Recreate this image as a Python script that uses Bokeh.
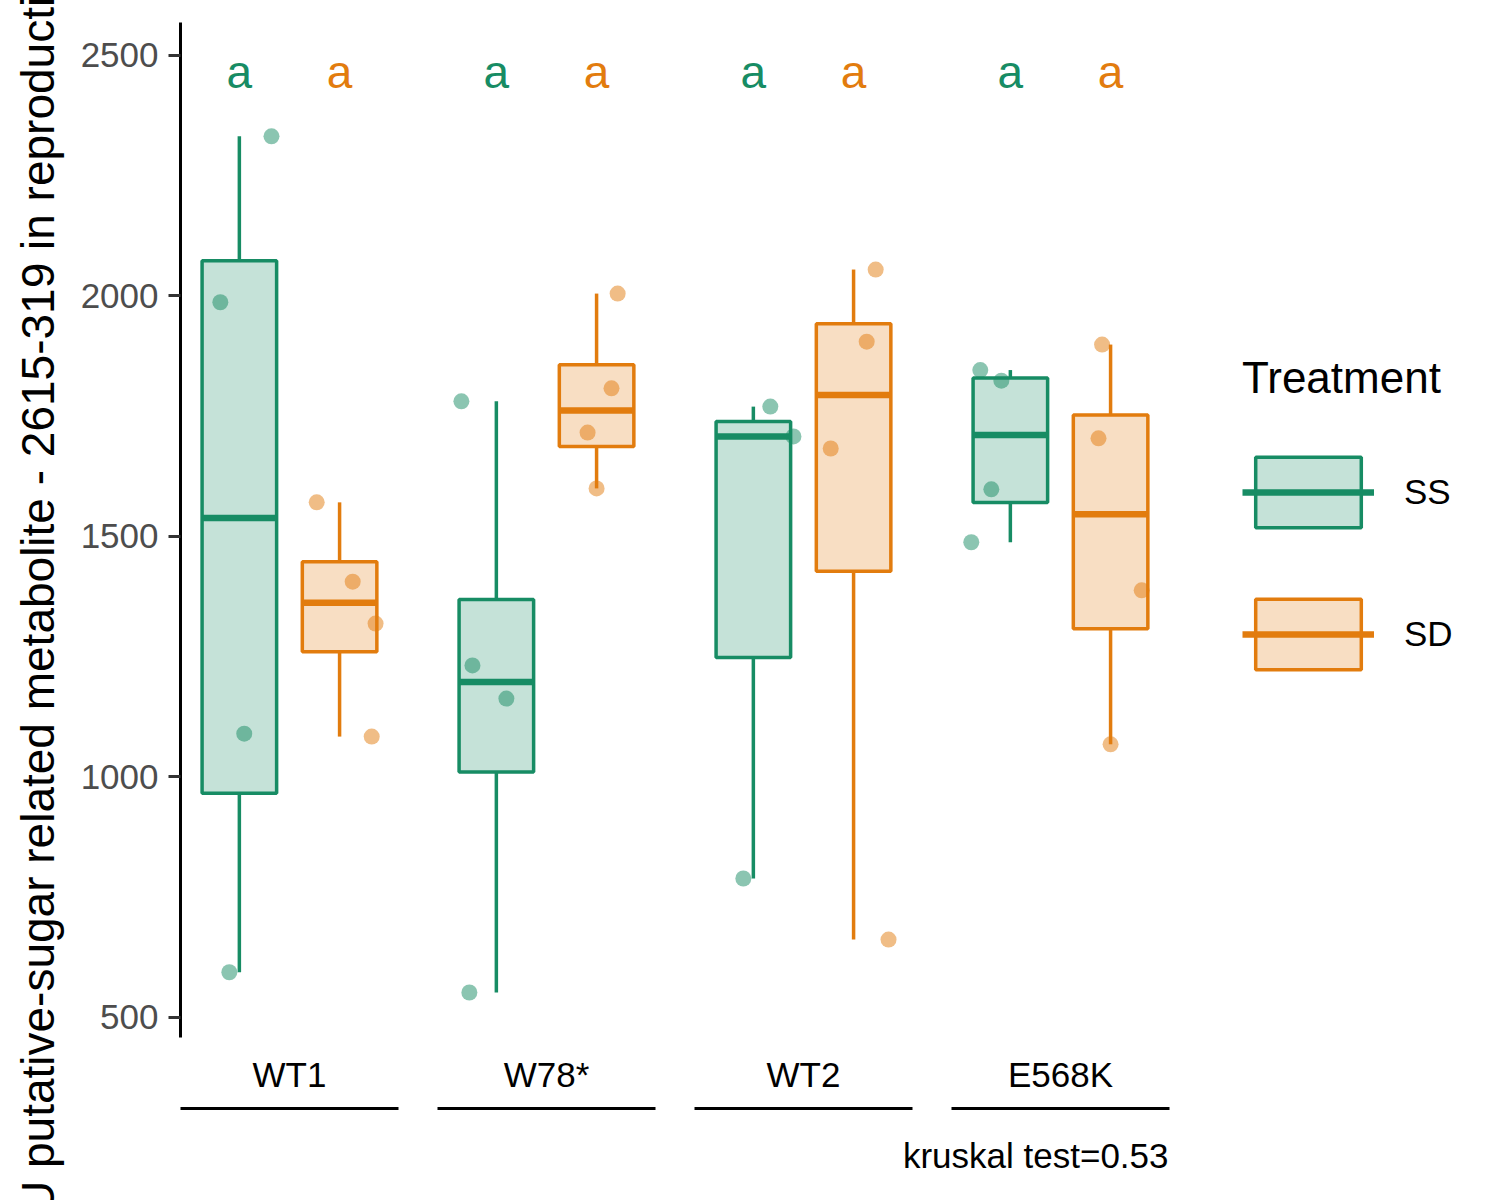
import numpy as np
from bokeh.plotting import figure
from bokeh.models import (Range1d, FixedTicker, Legend, LegendItem, ColumnDataSource,
                          LinearAxis, Title)
from bokeh.embed import file_html
from bokeh.resources import INLINE
from bokeh.core.properties import value

# ---------------- data ----------------
groups = ["WT1", "W78*", "WT2", "E568K"]
treatments = ["SS", "SD"]

ss_wt1 = [2332, 1987, 1090, 594]
ss_w78 = [1781, 1232, 1163, 552]
ss_wt2 = [1770, 1708, 789]
ss_e568k = [1846, 1824, 1598, 1488]

sd_wt1 = [1571, 1406, 1319, 1084]
sd_w78 = [2005, 1808, 1716, 1600]
sd_wt2 = [2055, 1905, 1683, 662]
sd_e568k = [1899, 1704, 1388, 1068]

# horizontal jitter of the points (category units)
jit_ss_wt1 = [0.125, -0.074, 0.019, -0.039]
jit_ss_w78 = [-0.136, -0.093, 0.039, -0.105]
jit_ss_wt2 = [0.066, 0.156, -0.039]
jit_ss_e568k = [-0.117, -0.035, -0.074, -0.152]

jit_sd_wt1 = [-0.089, 0.051, 0.140, 0.125]
jit_sd_w78 = [0.082, 0.058, -0.035, 0.0]
jit_sd_wt2 = [0.086, 0.051, -0.089, 0.136]
jit_sd_e568k = [-0.033, -0.047, 0.121, 0.0]

letters_ss = ["a", "a", "a", "a"]
letters_sd = ["a", "a", "a", "a"]

y_ticks = [500, 1000, 1500, 2000, 2500]
kruskal_label = "kruskal test=0.53"
y_title = "AU putative-sugar related metabolite - 2615-319 in reproductive tissue"

# ---------------- style ----------------
FONT = "Liberation Sans"
COLORS = {"SS": "#178C64", "SD": "#E27C0E"}
DODGE = {"SS": -0.195, "SD": 0.195}
BOX_W = 0.29
HALF_GROUP = 0.424
LETTER_Y = 2466

values = {
    "SS": [ss_wt1, ss_w78, ss_wt2, ss_e568k],
    "SD": [sd_wt1, sd_w78, sd_wt2, sd_e568k],
}
jitters = {
    "SS": [jit_ss_wt1, jit_ss_w78, jit_ss_wt2, jit_ss_e568k],
    "SD": [jit_sd_wt1, jit_sd_w78, jit_sd_wt2, jit_sd_e568k],
}
letters = {"SS": letters_ss, "SD": letters_sd}

group_pos = [i + 1 for i in range(len(groups))]
# the frame reaches the right edge; the legend sits in its empty right part
x_range = Range1d(group_pos[0] - 0.424, group_pos[0] - 0.424 + 1320 / 257)

p = figure(width=1500, height=1200, output_backend="svg", toolbar_location=None,
           x_range=x_range, y_range=Range1d(458.4, 2568.6),
           x_axis_location=None, min_border_left=180, min_border_right=0,
           min_border_top=22, min_border_bottom=163)
p.outline_line_color = None
p.xgrid.visible = False
p.ygrid.visible = False

legend_items = []
for t in treatments:
    col = COLORS[t]
    px, py = [], []
    for gi, vals in enumerate(values[t]):
        for v, j in zip(vals, jitters[t][gi]):
            px.append(group_pos[gi] + DODGE[t] + j)
            py.append(v)
    p.scatter(px, py, size=16, fill_color=col, fill_alpha=0.5, line_color=None)

    xs, q1s, meds, q3s, los, his = [], [], [], [], [], []
    for gi, vals in enumerate(values[t]):
        a = np.array(vals, dtype=float)
        q1, med, q3 = np.percentile(a, [25, 50, 75])
        iqr = q3 - q1
        lo = a[a >= q1 - 1.5 * iqr].min()
        hi = a[a <= q3 + 1.5 * iqr].max()
        xs.append(group_pos[gi] + DODGE[t])
        q1s.append(q1); meds.append(med); q3s.append(q3); los.append(lo); his.append(hi)
    src = ColumnDataSource(dict(x=xs, q1=q1s, med=meds, q3=q3s, lo=los, hi=his,
                                left=[x - BOX_W / 2 for x in xs],
                                right=[x + BOX_W / 2 for x in xs]))
    p.segment(x0="x", y0="q3", x1="x", y1="hi", source=src, line_color=col, line_width=3.5)
    p.segment(x0="x", y0="lo", x1="x", y1="q1", source=src, line_color=col, line_width=3.5)
    box_r = p.quad(left="left", right="right", bottom="q1", top="q3", source=src,
                   fill_color=col, fill_alpha=0.25, line_color=col, line_width=3.5)
    med_r = p.segment(x0="left", y0="med", x1="right", y1="med", source=src,
                      line_color=col, line_width=6.5)
    legend_items.append(LegendItem(label=t, renderers=[box_r, med_r]))

    p.text(x=xs, y=[LETTER_Y] * len(xs), text=letters[t], text_color=col,
           text_font=value(FONT), text_font_size="46px", text_align="center",
           text_baseline="alphabetic")

# y axis
ax = p.yaxis[0]
ax.ticker = FixedTicker(ticks=y_ticks)
ax.minor_tick_line_color = None
ax.axis_line_width = 3
ax.axis_line_color = "black"
ax.major_tick_line_width = 3
ax.major_tick_line_color = "#333333"
ax.major_tick_out = 12
ax.major_tick_in = 0
ax.major_label_standoff = 10
ax.major_label_text_font = FONT
ax.major_label_text_font_size = "35px"
ax.major_label_text_color = "#4D4D4D"
ax.axis_label = y_title
ax.axis_label_text_font = FONT
ax.axis_label_text_font_size = "46px"
ax.axis_label_text_font_style = "normal"
ax.axis_label_text_color = "black"
ax.axis_label_standoff = 14

# x axis: group names
xa = LinearAxis(ticker=FixedTicker(ticks=group_pos),
                major_label_overrides={g: n for g, n in zip(group_pos, groups)})
xa.axis_line_color = None
xa.major_tick_line_color = None
xa.minor_tick_line_color = None
xa.major_tick_out = 0
xa.major_tick_in = 0
xa.major_label_standoff = 17
xa.major_label_text_font = FONT
xa.major_label_text_font_size = "35px"
xa.major_label_text_color = "black"
p.add_layout(xa, "below")

# spacer between names and underlines (invisible tick gives it height)
sp = LinearAxis(ticker=FixedTicker(ticks=[group_pos[0]]),
                major_label_overrides={group_pos[0]: ""})
sp.axis_line_color = None
sp.major_tick_line_color = None
sp.minor_tick_line_color = None
sp.major_tick_out = 12
sp.major_tick_in = 0
sp.minor_tick_out = 0
sp.major_label_standoff = 0
sp.major_label_text_font_size = "1px"
p.add_layout(sp, "below")

# one underline per group
for g in group_pos:
    ua = LinearAxis(ticker=FixedTicker(ticks=[]), bounds=(g - HALF_GROUP, g + HALF_GROUP))
    ua.axis_line_width = 3
    ua.axis_line_color = "black"
    ua.major_tick_line_color = None
    ua.minor_tick_line_color = None
    ua.major_tick_out = 0
    ua.major_tick_in = 0
    ua.minor_tick_out = 0
    ua.minor_tick_in = 0
    ua.major_label_standoff = 0
    p.add_layout(ua, "below")

kt = Title(text=kruskal_label, align="right", offset=332, text_font=FONT,
           text_font_size="35px", text_font_style="normal", text_color="black", standoff=50)
p.add_layout(kt, "below")

legend = Legend(items=legend_items, title="Treatment", location=(1062, 359),
                orientation="vertical")
legend.title_text_font = FONT
legend.title_text_font_size = "44px"
legend.title_text_font_style = "normal"
legend.title_text_color = "black"
legend.title_standoff = 45
legend.label_text_font = FONT
legend.label_text_font_size = "35px"
legend.label_text_color = "black"
legend.glyph_width = 132
legend.glyph_height = 88
legend.spacing = 54
legend.label_standoff = 30
legend.padding = 0
legend.margin = 0
legend.border_line_color = None
legend.background_fill_alpha = 0
p.add_layout(legend)

open("out.html", "w").write(file_html(p, INLINE))
